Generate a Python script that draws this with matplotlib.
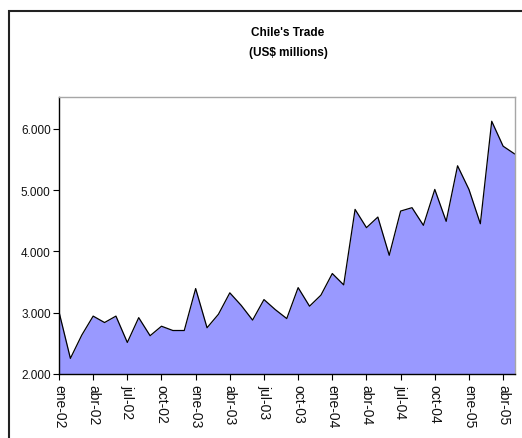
import matplotlib
matplotlib.use("Agg")
import matplotlib.pyplot as plt
from matplotlib.patches import Rectangle
from matplotlib.ticker import FuncFormatter

months = ["ene", "feb", "mar", "abr", "may", "jun", "jul", "ago", "sep", "oct", "nov", "dic"]
years = ["02", "03", "04", "05"]
categories = [f"{m}-{y}" for y in years for m in months][:41]

trade = [3015, 2255, 2635, 2945, 2840, 2945, 2515, 2920, 2625, 2780, 2710, 2710,
         3395, 2755, 2975, 3325, 3120, 2880, 3215, 3050, 2905, 3410, 3107, 3287,
         3640, 3455, 4687, 4389, 4562, 3938, 4660, 4715, 4427, 5013, 4492, 5399,
         5013, 4453, 6126, 5719, 5594]

title_lines = ["Chile's Trade", "(US$ millions)"]
yticks = [2000, 3000, 4000, 5000, 6000]

plt.rcParams['font.family'] = ['Liberation Sans', 'DejaVu Sans']

fig = plt.figure(figsize=(5.22, 4.39), dpi=100)
W, H = 522, 439
left, right, top, bottom = 59, 514.5, 97.5, 375
ax = fig.add_axes([left / W, 1 - bottom / H, (right - left) / W, (bottom - top) / H])

x = list(range(len(trade)))
ax.fill_between(x, trade, 2000, color="#9999FF", linewidth=0)
ax.plot(x, trade, color="black", linewidth=0.9)

ax.set_xlim(0, len(trade) - 1)
ax.set_ylim(2000, 6530)
ax.set_yticks(yticks)
ax.yaxis.set_major_formatter(FuncFormatter(lambda v, p: f"{int(v):,}".replace(",", ".")))
tick_pos = list(range(0, len(trade), 3))
ax.set_xticks(tick_pos)
ax.set_xticklabels([categories[i] for i in tick_pos], rotation=-90, fontsize=10,
                   color="#111111")
ax.tick_params(axis="y", labelsize=8.5, length=4, width=0.8, pad=2, direction="out",
               labelcolor="#111111")
ax.tick_params(axis="x", length=4, width=0.8, pad=3, direction="out")

for s in ["left", "bottom"]:
    ax.spines[s].set_color("black")
    ax.spines[s].set_linewidth(1.0)
for s in ["top", "right"]:
    ax.spines[s].set_color("#a6a6a6")
    ax.spines[s].set_linewidth(1.0)

fig.text(288 / W, 1 - 33.5 / H, title_lines[0], ha="center", va="center", fontsize=8.5, fontweight="bold")
fig.text(288 / W, 1 - 53 / H, title_lines[1], ha="center", va="center", fontsize=8.5, fontweight="bold")

fig.add_artist(Rectangle((9 / W, -0.1), 2, 1 - 11.5 / H + 0.1, transform=fig.transFigure,
                         fill=False, edgecolor="#222222", linewidth=1.5))

fig.savefig("out.png", dpi=100)
